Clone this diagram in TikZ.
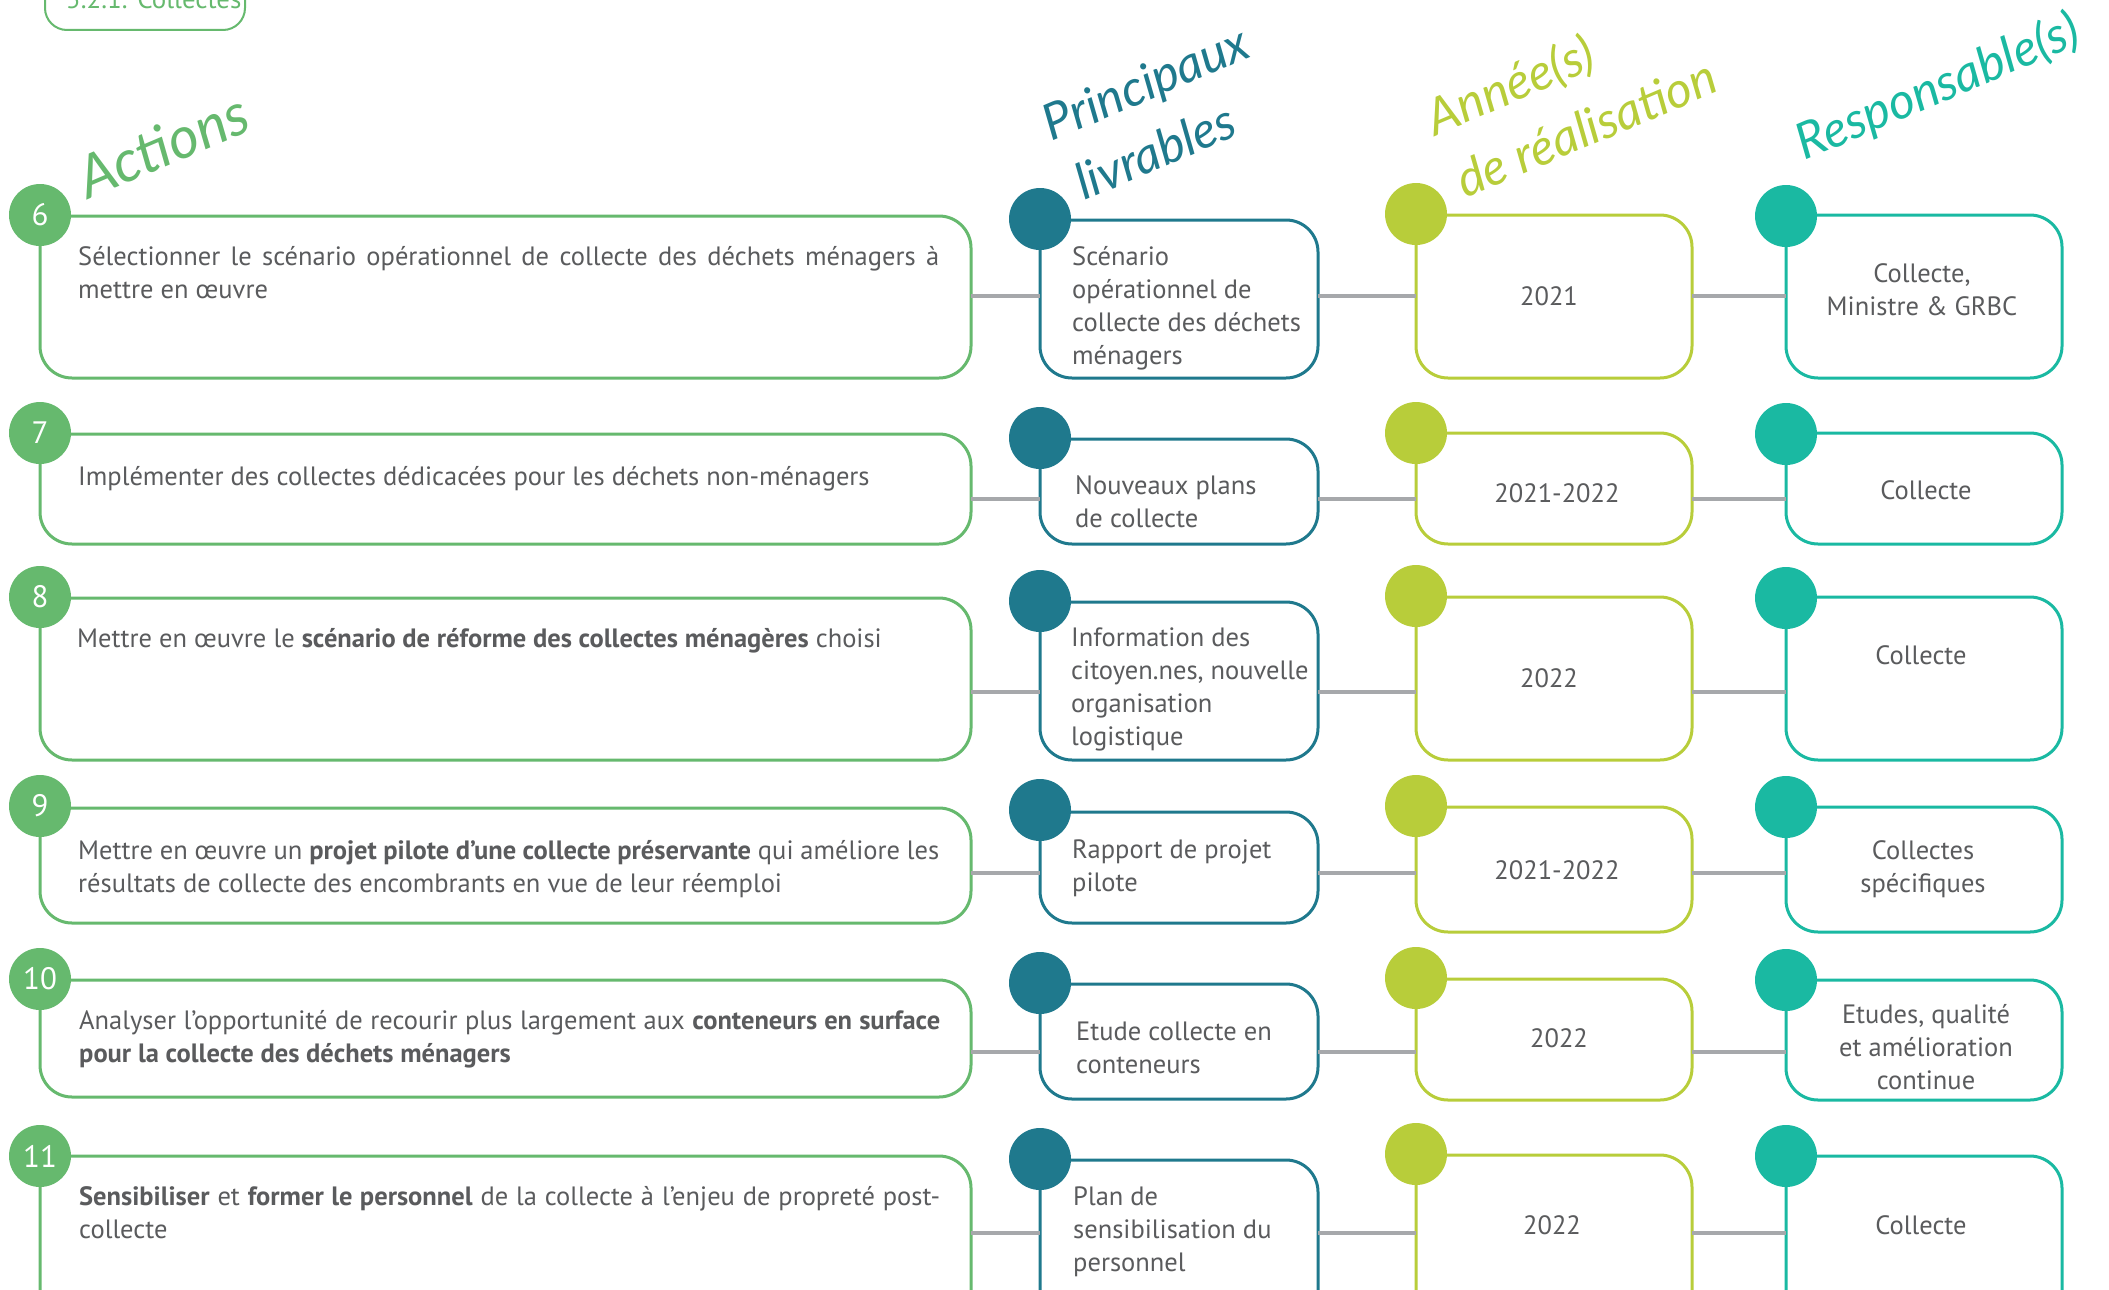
\documentclass[tikz,border=0pt]{standalone}
\usepackage{fontspec}
\setmainfont{PT Sans}
\newfontfamily\hand{Lato}
\definecolor{cgreen}{HTML}{66B96E}
\definecolor{cdark}{HTML}{1F798D}
\definecolor{clime}{HTML}{B8CD3A}
\definecolor{cteal}{HTML}{1AB9A2}
\definecolor{lgray}{HTML}{A6A8AB}
\definecolor{tgray}{HTML}{5A5B5D}
\newcommand\mybox[6]{\node[bx,draw=#2,minimum width=#5pt,minimum height=#6pt] (#1) at (#3,#4) {};}
\newcommand\mydot[5]{\node[numdot,fill=#2] (#1) at (#3,#4) {#5};}
\tikzset{
  bx/.style={line width=3pt, rounded corners=32pt, fill=white, anchor=north west, inner sep=0pt, outer sep=0pt},
  numdot/.style={circle, minimum size=62pt, inner sep=0pt, text=white, font=\fontsize{31}{31}\selectfont},
  conn/.style={draw=lgray, line width=4pt},
  txt/.style={text=tgray, inner sep=0pt, font=\fontsize{26.5}{33}\selectfont},
  hdr/.style={inner sep=0pt, rotate=23, font=\hand\itshape\fontsize{50}{50}\selectfont},
}
\begin{document}
\begin{tikzpicture}[x=1pt,y=-1pt]
\useasboundingbox (0,0) rectangle (2109,1290);
\clip (0,0) rectangle (2109,1290);

% tab
\node[draw=cgreen, line width=2pt, rounded corners=22pt, minimum width=200pt, minimum height=80pt, anchor=north west, inner sep=0pt] (tab) at (44,-51) {};
\node[anchor=base west, text=cgreen, inner sep=0pt, font=\fontsize{27}{30}\selectfont] (tabtxt) at (66,9) {5.2.1. Collectes};

% headers
\node[hdr, text=cgreen, font=\hand\itshape\fontsize{58}{58}\selectfont] (hA) at (163,145) {Actions};
\node[hdr, text=cdark] (hP1) at (1147,86) {Principaux};
\node[hdr, text=cdark] (hP2) at (1155,151) {livrables};
\node[hdr, text=clime] (hY1) at (1511,87) {Année(s)};
\node[hdr, text=clime] (hY2) at (1586,128) {de réalisation};
\node[hdr, text=cteal] (hR) at (1938,88) {Responsable(s)};

% connector rows
\coordinate (c6) at (0,296);
\coordinate (c7) at (0,499);
\coordinate (c8) at (0,692);
\coordinate (c9) at (0,873);
\coordinate (c10) at (0,1052);
\coordinate (c11) at (0,1233);

% boxes
\mybox{a6}{cgreen}{40}{216}{931}{162}
\mybox{l6}{cdark}{1040}{220}{278}{158}
\mybox{y6}{clime}{1416}{215}{276}{163}
\mybox{r6}{cteal}{1786}{215}{276}{163}

\mybox{a7}{cgreen}{40}{434}{931}{110}
\mybox{l7}{cdark}{1040}{439}{278}{105}
\mybox{y7}{clime}{1416}{433}{276}{111}
\mybox{r7}{cteal}{1786}{433}{276}{111}

\mybox{a8}{cgreen}{40}{598}{931}{162}
\mybox{l8}{cdark}{1040}{602}{278}{158}
\mybox{y8}{clime}{1416}{597}{276}{163}
\mybox{r8}{cteal}{1786}{597}{276}{163}

\mybox{a9}{cgreen}{40}{808}{931}{115}
\mybox{l9}{cdark}{1040}{812}{278}{111}
\mybox{y9}{clime}{1416}{807}{276}{125}
\mybox{r9}{cteal}{1786}{807}{276}{125}

\mybox{a10}{cgreen}{40}{980}{931}{117}
\mybox{l10}{cdark}{1040}{984}{278}{115}
\mybox{y10}{clime}{1416}{979}{276}{121}
\mybox{r10}{cteal}{1786}{980}{276}{120}

\mybox{a11}{cgreen}{40}{1156}{931}{175}
\mybox{l11}{cdark}{1040}{1160}{278}{171}
\mybox{y11}{clime}{1416}{1155}{276}{176}
\mybox{r11}{cteal}{1786}{1156}{276}{175}

% connectors
\foreach \i in {6,...,11}{
  \draw[conn] (a\i.east |- c\i) -- (l\i.west |- c\i);
  \draw[conn] (l\i.east |- c\i) -- (y\i.west |- c\i);
  \draw[conn] (y\i.east |- c\i) -- (r\i.west |- c\i);
}

% dots
\mydot{n6}{cgreen}{40}{215}{6}
\mydot{m6}{cdark}{1040}{219}{}
\mydot{p6}{clime}{1416}{214}{}
\mydot{q6}{cteal}{1786}{216}{}

\mydot{n7}{cgreen}{40}{433}{7}
\mydot{m7}{cdark}{1040}{438}{}
\mydot{p7}{clime}{1416}{433}{}
\mydot{q7}{cteal}{1786}{434}{}

\mydot{n8}{cgreen}{40}{597}{8}
\mydot{m8}{cdark}{1040}{601}{}
\mydot{p8}{clime}{1416}{596}{}
\mydot{q8}{cteal}{1786}{598}{}

\mydot{n9}{cgreen}{40}{806}{9}
\mydot{m9}{cdark}{1040}{810}{}
\mydot{p9}{clime}{1416}{806}{}
\mydot{q9}{cteal}{1786}{807}{}

\mydot{n10}{cgreen}{40}{979}{10}
\mydot{m10}{cdark}{1040}{983}{}
\mydot{p10}{clime}{1416}{978}{}
\mydot{q10}{cteal}{1786}{980}{}

\mydot{n11}{cgreen}{40}{1156}{11}
\mydot{m11}{cdark}{1040}{1159}{}
\mydot{p11}{clime}{1416}{1154}{}
\mydot{q11}{cteal}{1786}{1156}{}

% action texts
\node[txt, anchor=base west] (ta6) at (78,265) {\parbox[t]{861pt}{\makebox[\linewidth][s]{Sélectionner le scénario opérationnel de collecte des déchets ménagers à}\\mettre en œuvre}};
\node[txt, anchor=base west] (ta7) at (78,485) {Implémenter des collectes dédicacées pour les déchets non-ménagers};
\node[txt, anchor=base west] (ta8) at (77,647) {Mettre en œuvre le \textbf{scénario de réforme des collectes ménagères} choisi};
\node[txt, anchor=base west] (ta9) at (78,859) {\parbox[t]{861pt}{\makebox[\linewidth][s]{Mettre en œuvre un \textbf{projet pilote d’une collecte préservante} qui améliore les}\\résultats de collecte des encombrants en vue de leur réemploi}};
\node[txt, anchor=base west] (ta10) at (79,1029) {\parbox[t]{861pt}{\makebox[\linewidth][s]{Analyser l’opportunité de recourir plus largement aux \textbf{conteneurs en surface}}\\\textbf{pour la collecte des déchets ménagers}}};
\node[txt, anchor=base west] (ta11) at (79,1205) {\parbox[t]{861pt}{\makebox[\linewidth][s]{\textbf{Sensibiliser} et \textbf{former le personnel} de la collecte à l’enjeu de propreté post-}\\collecte}};

% livrables
\node[txt, anchor=base west] (tl6) at (1072,265) {\parbox[t]{240pt}{Scénario\\opérationnel de\\collecte des déchets\\ménagers}};
\node[txt, anchor=base west] (tl7) at (1075,494) {\parbox[t]{240pt}{Nouveaux plans\\de collecte}};
\node[txt, anchor=base west] (tl8) at (1071,646) {\parbox[t]{240pt}{Information des\\citoyen.nes, nouvelle\\organisation\\logistique}};
\node[txt, anchor=base west] (tl9) at (1072,858) {\parbox[t]{240pt}{Rapport de projet\\pilote}};
\node[txt, anchor=base west] (tl10) at (1076,1040) {\parbox[t]{240pt}{Etude collecte en\\conteneurs}};
\node[txt, anchor=base west] (tl11) at (1073,1205) {\parbox[t]{240pt}{Plan de\\sensibilisation du\\personnel}};

% years
\node[txt, anchor=base] (ty6) at (1549,305) {2021};
\node[txt, anchor=base] (ty7) at (1557,502) {2021-2022};
\node[txt, anchor=base] (ty8) at (1549,687) {2022};
\node[txt, anchor=base] (ty9) at (1557,879) {2021-2022};
\node[txt, anchor=base] (ty10) at (1559,1047) {2022};
\node[txt, anchor=base] (ty11) at (1552,1234) {2022};

% responsables
\node[txt, anchor=base] (tr6) at (1922,282) {\parbox[t]{260pt}{\centering Collecte,\\Ministre \& GRBC}};
\node[txt, anchor=base] (tr7) at (1926,499) {Collecte};
\node[txt, anchor=base] (tr8) at (1921,664) {Collecte};
\node[txt, anchor=base] (tr9) at (1923,859) {\parbox[t]{260pt}{\centering Collectes\\spécifiques}};
\node[txt, anchor=base] (tr10) at (1926,1023) {\parbox[t]{260pt}{\centering Etudes, qualité\\et amélioration\\continue}};
\node[txt, anchor=base] (tr11) at (1921,1234) {Collecte};
\end{tikzpicture}
\end{document}
